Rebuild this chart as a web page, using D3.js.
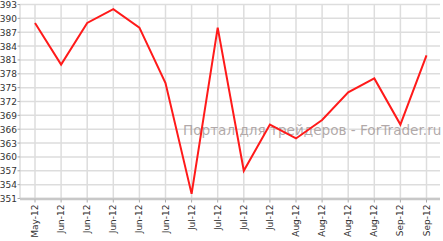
<!DOCTYPE html>
<meta charset="utf-8">
<style>
body { margin: 0; background: #fff; }
text { font-family: "DejaVu Sans", Verdana, sans-serif; font-size: 9px; fill: #333; }
.grid line { stroke: #ddd; stroke-width: 1.5px; }
.watermark { font-size: 13.6px; fill: #a49a9a; fill-opacity: 0.85; }
</style>
<svg width="443" height="241"></svg>
<script src="https://d3js.org/d3.v7.min.js"></script>
<script>

var months = ["May-12", "Jun-12", "Jun-12", "Jun-12", "Jun-12", "Jun-12",
              "Jul-12", "Jul-12", "Jul-12", "Jul-12",
              "Aug-12", "Aug-12", "Aug-12", "Aug-12", "Sep-12", "Sep-12"];
var values = [389, 380, 389, 392, 388, 376, 352, 388, 357, 367, 364, 368, 374, 377, 367, 382];
var yTicks = [351, 354, 357, 360, 363, 366, 369, 372, 375, 378, 381, 384, 387, 390, 393];

var svg = d3.select("svg");
var plotL = 20, plotR = 440, plotT = 4.5, plotB = 198.5;

var x = d3.scalePoint().domain(d3.range(months.length)).range([35, 426.5]);
var y = d3.scaleLinear().domain([351, 393]).range([plotB, plotT]);

var grid = svg.append("g").attr("class", "grid");
grid.selectAll(".h").data(yTicks).enter().append("line")
    .attr("x1", plotL).attr("x2", plotR)
    .attr("y1", function(d) { return y(d); }).attr("y2", function(d) { return y(d); });
grid.selectAll(".v").data(d3.range(months.length)).enter().append("line")
    .attr("x1", function(d) { return x(d); }).attr("x2", function(d) { return x(d); })
    .attr("y1", plotT).attr("y2", plotB);

// y axis line
svg.append("line").attr("x1", plotL).attr("x2", plotL).attr("y1", plotT).attr("y2", plotB)
    .attr("stroke", "#ccc").attr("stroke-width", 1);

svg.selectAll(".ylab").data(yTicks).enter().append("text")
    .attr("x", 17).attr("y", function(d) { return y(d) + 3.5; })
    .attr("text-anchor", "end").text(function(d) { return d; });
svg.selectAll(".ytick").data(yTicks).enter().append("line")
    .attr("x1", 17.5).attr("x2", plotL)
    .attr("y1", function(d) { return y(d); }).attr("y2", function(d) { return y(d); })
    .attr("stroke", "#aaa");

// watermark
svg.append("text").attr("class", "watermark").attr("x", 183).attr("y", 135)
    .text("Портал для трейдеров - ForTrader.ru");

// x axis
svg.append("line").attr("x1", plotL).attr("x2", plotR).attr("y1", plotB + 0.5).attr("y2", plotB + 0.5)
    .attr("stroke", "#c8c8c8").attr("stroke-width", 2.5);
svg.selectAll(".xtick").data(d3.range(months.length)).enter().append("line")
    .attr("x1", function(d) { return x(d); }).attr("x2", function(d) { return x(d); })
    .attr("y1", plotB + 1).attr("y2", plotB + 4).attr("stroke", "#aaa");
svg.selectAll(".xlab").data(months).enter().append("text")
    .attr("transform", function(d, i) { return "translate(" + (x(i) + 3) + "," + (plotB + 6) + ") rotate(-90)"; })
    .attr("text-anchor", "end").text(function(d) { return d; });

var line = d3.line().x(function(d, i) { return x(i); }).y(function(d) { return y(d); });
svg.append("path").datum(values).attr("d", line)
    .attr("fill", "none").attr("stroke", "#ff1a1a").attr("stroke-width", 2)
    .attr("stroke-linejoin", "miter");

</script>
